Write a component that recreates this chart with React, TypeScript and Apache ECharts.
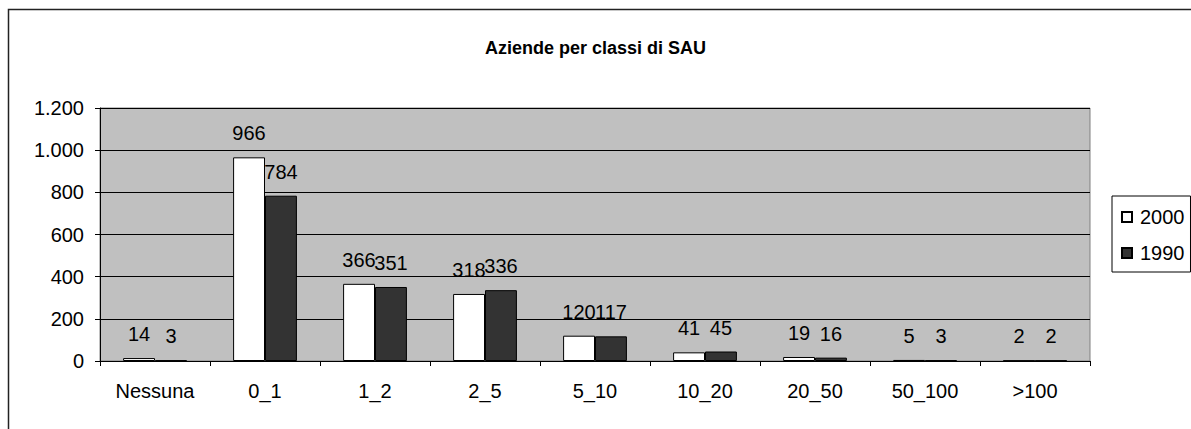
import React, { useEffect, useRef } from "react";
import * as echarts from "echarts";

const categories = ["Nessuna", "0_1", "1_2", "2_5", "5_10", "10_20", "20_50", "50_100", ">100"];
const values2000 = [14, 966, 366, 318, 120, 41, 19, 5, 2];
const values1990 = [3, 784, 351, 336, 117, 45, 16, 3, 2];
const seriesNames = ["2000", "1990"];
const titleText = "Aziende per classi di SAU";

const FONT = "'Liberation Sans', Arial, sans-serif";

export default function App() {
  const ref = useRef<HTMLDivElement>(null);
  useEffect(() => {
    if (!ref.current) return;
    const chart = echarts.init(ref.current, null, { renderer: "svg" });
    const fmt = (v: number) => String(v).replace(/\B(?=(\d{3})+(?!\d))/g, ".");
    const labelCfg = {
      show: true,
      position: "top",
      distance: 14,
      color: "#000",
      fontSize: 20,
      fontFamily: FONT,
    };
    chart.setOption({
      animation: false,
      backgroundColor: "#fff",
      textStyle: { fontFamily: FONT },
      title: {
        text: titleText,
        left: "center",
        top: 34,
        textStyle: { fontSize: 18, fontWeight: "bold", color: "#000", fontFamily: FONT },
      },
      graphic: [
        {
          type: "rect",
          shape: { x: 8.5, y: 9.5, width: 1300, height: 600 },
          style: { fill: "none", stroke: "#222", lineWidth: 1.5 },
          silent: true,
          z: 100,
        },
      ],
      legend: {
        orient: "vertical",
        left: 1112,
        top: 196,
        padding: [11, 6, 9, 9],
        itemGap: 16,
        itemWidth: 10,
        itemHeight: 10,
        icon: "rect",
        borderColor: "#000",
        borderWidth: 1,
        backgroundColor: "#fff",
        textStyle: { fontSize: 20, color: "#000", fontFamily: FONT, padding: [0, 0, 0, 3] },
        data: seriesNames,
      },
      grid: {
        left: 100,
        right: 101,
        top: 108,
        bottom: 68,
        show: true,
        backgroundColor: "#c0c0c0",
        borderColor: "#808080",
        borderWidth: 1,
      },
      xAxis: {
        type: "category",
        data: categories,
        axisLine: { lineStyle: { color: "#000", width: 1 } },
        axisTick: { show: true, length: 5, lineStyle: { color: "#000" } },
        axisLabel: { color: "#000", fontSize: 20, margin: 20, fontFamily: FONT, interval: 0 },
      },
      yAxis: {
        type: "value",
        min: 0,
        max: 1200,
        interval: 200,
        axisLine: { show: true, lineStyle: { color: "#000", width: 1 } },
        axisTick: { show: true, length: 5, lineStyle: { color: "#000" } },
        splitLine: { show: true, lineStyle: { color: "#000", width: 1 } },
        axisLabel: { color: "#000", fontSize: 20, margin: 16, fontFamily: FONT, formatter: fmt },
      },
      series: [
        {
          name: seriesNames[0],
          type: "bar",
          data: values2000,
          barGap: "0%",
          barCategoryGap: "42%",
          itemStyle: { color: "#fff", borderColor: "#000", borderWidth: 1 },
          label: labelCfg,
        },
        {
          name: seriesNames[1],
          type: "bar",
          data: values1990,
          barGap: "0%",
          barCategoryGap: "42%",
          itemStyle: { color: "#333333", borderColor: "#000", borderWidth: 1 },
          label: labelCfg,
        },
      ],
    });
    return () => chart.dispose();
  }, []);
  return (
    <div
      ref={ref}
      style={{ position: "fixed", left: 0, top: 0, width: 1191, height: 429 }}
    />
  );
}
